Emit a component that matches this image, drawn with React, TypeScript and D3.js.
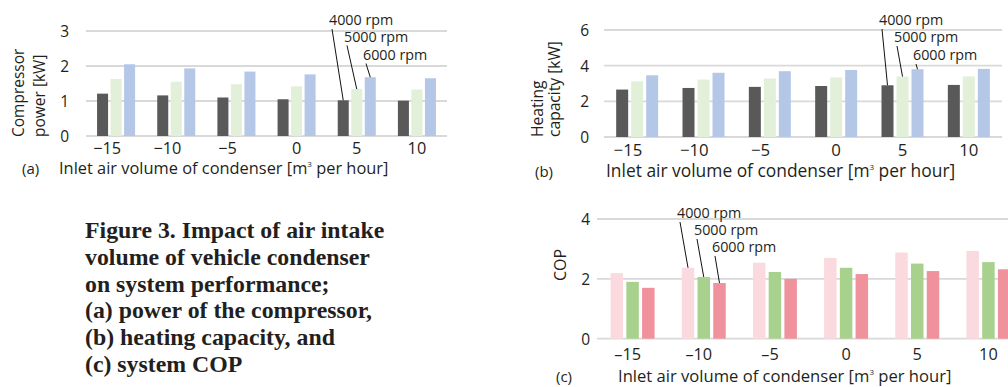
import React from 'react';
import * as d3 from 'd3';

// inlet air volume categories (x axis) and compressor speeds (series)
const airVolumes = [-15, -10, -5, 0, 5, 10];
const speeds = ['4000 rpm', '5000 rpm', '6000 rpm'];

// (a) compressor power [kW]
const powerAt4000 = [1.21, 1.16, 1.1, 1.05, 1.02, 1.01];
const powerAt5000 = [1.63, 1.55, 1.48, 1.42, 1.34, 1.33];
const powerAt6000 = [2.05, 1.93, 1.84, 1.76, 1.68, 1.65];

// (b) heating capacity [kW]
const heatAt4000 = [2.66, 2.75, 2.81, 2.86, 2.9, 2.92];
const heatAt5000 = [3.12, 3.22, 3.28, 3.34, 3.39, 3.4];
const heatAt6000 = [3.46, 3.6, 3.69, 3.76, 3.8, 3.82];

// (c) system COP
const copAt4000 = [2.19, 2.37, 2.54, 2.7, 2.88, 2.93];
const copAt5000 = [1.9, 2.06, 2.23, 2.37, 2.51, 2.56];
const copAt6000 = [1.7, 1.86, 2.0, 2.16, 2.26, 2.32];

const powerTicks = [0, 1, 2, 3];
const heatTicks = [0, 2, 4, 6];
const copTicks = [0, 2, 4];

const captionLines = [
  'Figure 3. Impact of air intake',
  'volume of vehicle condenser',
  'on system performance;',
  '(a) power of the compressor,',
  '(b) heating capacity, and',
  '(c) system COP',
];

const FONT = '"Open Sans", "Noto Sans", sans-serif';
const INK = '#231f20';

type PanelProps = {
  series: number[][];
  colors: string[];
  xRange: [number, number];
  yRange: [number, number];
  yMax: number;
  yTicks: number[];
  groupPad: number;
  barPad: number;
  yLabelX: number;
  yTitle: string[];
  yTitleX: number[];
  yTitleY: number;
  yTitleSize: number;
  tickY: number;
  tickSize: number;
  minus: string;
  minusW: number;
  titleX: number;
  titleY: number;
  titleSize: number;
  tag: string;
  tagX: number;
  noteGroup: number;
  noteX: number[];
  noteY: number[];
};

function Panel(p: PanelProps) {
  const x = d3
    .scaleBand<number>()
    .domain(airVolumes)
    .range(p.xRange)
    .paddingInner(p.groupPad)
    .paddingOuter(p.groupPad / 2);
  const sub = d3
    .scaleBand<number>()
    .domain(d3.range(speeds.length))
    .range([0, x.bandwidth()])
    .paddingInner(p.barPad);
  const y = d3.scaleLinear().domain([0, p.yMax]).range(p.yRange);
  const digitW = p.tickSize * 0.572;

  return (
    <g>
      {p.yTicks.map((t) => (
        <g key={t}>
          <line x1={p.xRange[0]} x2={p.xRange[1]} y1={y(t)} y2={y(t)} stroke="#d9d9d9" strokeWidth={1.8} />
          <text x={p.yLabelX} y={y(t) + 6} textAnchor="end" fontSize={15.5} fill={INK}>
            {t}
          </text>
        </g>
      ))}
      {p.series.map((vals, si) =>
        vals.map((v, i) => (
          <rect
            key={`${si}-${i}`}
            x={(x(airVolumes[i]) ?? 0) + (sub(si) ?? 0)}
            y={y(v)}
            width={sub.bandwidth()}
            height={y(0) - y(v)}
            fill={p.colors[si]}
          />
        ))
      )}
      {airVolumes.map((a) => {
        // digits are centred under the group, the minus sign hangs to the left
        const cx = (x(a) ?? 0) + x.bandwidth() / 2;
        const digits = String(Math.abs(a));
        const left = cx - (digits.length * digitW) / 2 - (a < 0 ? p.minusW : 0);
        return (
          <text key={a} x={left} y={p.tickY} fontSize={p.tickSize} fill={INK}>
            {a < 0 ? p.minus + digits : digits}
          </text>
        );
      })}
      {p.yTitle.map((line, i) => (
        <text
          key={line}
          transform={`translate(${p.yTitleX[i]},${p.yTitleY}) rotate(-90)`}
          fontSize={p.yTitleSize}
          fill={INK}
        >
          {line}
        </text>
      ))}
      <text x={p.tagX} y={p.titleY} fontSize={15} fill={INK}>
        {p.tag}
      </text>
      <text x={p.titleX} y={p.titleY} fontSize={p.titleSize} fill={INK}>
        Inlet air volume of condenser [m
        <tspan dy={-7} fontSize={8}>
          3
        </tspan>
        <tspan dy={7}> per hour]</tspan>
      </text>
      {speeds.map((s, si) => {
        const bx = (x(airVolumes[p.noteGroup]) ?? 0) + (sub(si) ?? 0) + sub.bandwidth() / 2;
        const by = y(p.series[si][p.noteGroup]);
        return (
          <g key={s}>
            <text x={p.noteX[si]} y={p.noteY[si]} fontSize={14.3} fill={INK}>
              {s}
            </text>
            <line x1={p.noteX[si] + 3} y1={p.noteY[si] + 4} x2={bx} y2={by} stroke="#111" strokeWidth={1} />
          </g>
        );
      })}
    </g>
  );
}

export default function App() {
  return (
    <svg
      width={1008}
      height={387}
      style={{ position: 'absolute', left: 0, top: 0, background: '#fff' }}
      fontFamily={FONT}
    >
      <Panel
        series={[powerAt4000, powerAt5000, powerAt6000]}
        colors={['#595959', '#e2efd9', '#b4c7e7']}
        xRange={[86, 447]}
        yRange={[136, 31]}
        yMax={3}
        yTicks={powerTicks}
        groupPad={0.368}
        barPad={0.185}
        yLabelX={69}
        yTitle={['Compressor', 'power [kW]']}
        yTitleX={[24, 45]}
        yTitleY={137}
        yTitleSize={15.5}
        tickY={154}
        tickSize={16.3}
        minus="−"
        minusW={13.5}
        titleX={59}
        titleY={174}
        titleSize={16.4}
        tag="(a)"
        tagX={22}
        noteGroup={4}
        noteX={[329, 344, 363]}
        noteY={[25, 41.5, 59.5]}
      />
      <Panel
        series={[heatAt4000, heatAt5000, heatAt6000]}
        colors={['#595959', '#e2efd9', '#b4c7e7']}
        xRange={[604, 1002]}
        yRange={[137, 30]}
        yMax={6}
        yTicks={heatTicks}
        groupPad={0.367}
        barPad={0.2}
        yLabelX={589}
        yTitle={['Heating', 'capacity [kW]']}
        yTitleX={[543, 559.5]}
        yTitleY={137}
        yTitleSize={15.6}
        tickY={156}
        tickSize={16.8}
        minus="−"
        minusW={14}
        titleX={606}
        titleY={177}
        titleSize={17.4}
        tag="(b)"
        tagX={535}
        noteGroup={4}
        noteX={[879, 894, 913]}
        noteY={[25, 42, 60]}
      />
      <Panel
        series={[copAt4000, copAt5000, copAt6000]}
        colors={['#fadadf', '#a9d18e', '#f0929c']}
        xRange={[597, 1024]}
        yRange={[338.7, 219]}
        yMax={4}
        yTicks={copTicks}
        groupPad={0.382}
        barPad={0.206}
        yLabelX={590}
        yTitle={['COP']}
        yTitleX={[566]}
        yTitleY={281}
        yTitleSize={16}
        tickY={360}
        tickSize={16.3}
        minus="–"
        minusW={9}
        titleX={618}
        titleY={382}
        titleSize={16.6}
        tag="(c)"
        tagX={556}
        noteGroup={1}
        noteX={[677, 694, 712]}
        noteY={[218, 235, 252]}
      />
      <g fontFamily='"Liberation Serif", "Times New Roman", serif' fontWeight="bold" fontSize={23.8} fill={INK}>
        {captionLines.map((line, i) => (
          <text key={line} x={85} y={238 + i * 26.8}>
            {line}
          </text>
        ))}
      </g>
    </svg>
  );
}
